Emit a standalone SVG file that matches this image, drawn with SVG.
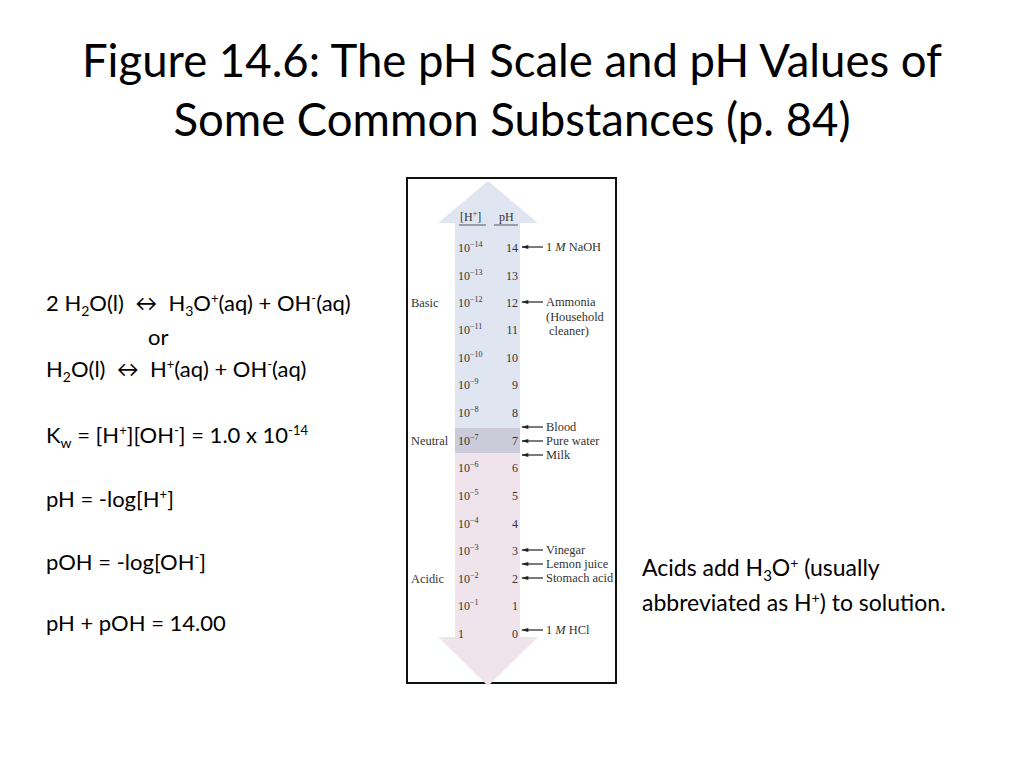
<svg xmlns="http://www.w3.org/2000/svg" width="1024" height="768" viewBox="0 0 1024 768">
<style>
.t{font-family:Lato,"Open Sans","DejaVu Sans",sans-serif;fill:#000}
.title{font-size:45.5px}
.eq{font-size:22px}
.nt{font-size:23px}
.s{font-family:"Liberation Serif","Times New Roman",serif;font-size:12px;fill:#333}
.lab{font-family:"Liberation Serif","Times New Roman",serif;font-size:12.4px;fill:#333}
.sup{font-size:8px}
.ar{stroke:#222;stroke-width:1.2;fill:none}
</style>
<defs>
<marker id="ah" viewBox="0 0 10 10" refX="9" refY="5" markerWidth="8" markerHeight="7" orient="auto" markerUnits="userSpaceOnUse">
<path d="M0,2 L10,5 L0,8 Z" fill="#222"/>
</marker>
</defs>
<rect width="1024" height="768" fill="#fff"/>
<g id="title">
<text class="t title" x="512" y="77" text-anchor="middle">Figure 14.6: The pH Scale and pH Values of</text>
<text class="t title" x="512" y="136" text-anchor="middle">Some Common Substances (p. 84)</text>
</g>
<g id="equations">
<text class="t eq" x="46" y="311" xml:space="preserve">2 H<tspan font-size="14" dy="5">2</tspan><tspan dy="-5">O(l)  ↔  H</tspan><tspan font-size="14" dy="5">3</tspan><tspan dy="-5">O</tspan><tspan font-size="13" dy="-8">+</tspan><tspan dy="8">(aq) + OH</tspan><tspan font-size="13" dy="-8">-</tspan><tspan dy="8">(aq)</tspan></text>
<text class="t eq" x="148" y="345">or</text>
<text class="t eq" x="46" y="377" xml:space="preserve">H<tspan font-size="14" dy="5">2</tspan><tspan dy="-5">O(l)  ↔  H</tspan><tspan font-size="13" dy="-8">+</tspan><tspan dy="8">(aq) + OH</tspan><tspan font-size="13" dy="-8">-</tspan><tspan dy="8">(aq)</tspan></text>
<text class="t eq" x="46" y="443">K<tspan font-size="14" dy="5">w</tspan><tspan dy="-5"> = [H</tspan><tspan font-size="13" dy="-8">+</tspan><tspan dy="8">][OH</tspan><tspan font-size="13" dy="-8">-</tspan><tspan dy="8">] = 1.0 x 10</tspan><tspan font-size="13" dy="-8">-14</tspan></text>
<text class="t eq" x="46" y="507">pH = -log[H<tspan font-size="13" dy="-8">+</tspan><tspan dy="8">]</tspan></text>
<text class="t eq" x="46" y="570">pOH = -log[OH<tspan font-size="13" dy="-8">-</tspan><tspan dy="8">]</tspan></text>
<text class="t eq" x="46" y="631">pH + pOH = 14.00</text>
</g>
<g id="note">
<text class="t nt" x="642" y="576">Acids add H<tspan font-size="15" dy="5">3</tspan><tspan dy="-5">O</tspan><tspan font-size="14" dy="-8">+</tspan><tspan dy="8"> (usually</tspan></text>
<text class="t nt" x="642" y="611">abbreviated as H<tspan font-size="14" dy="-8">+</tspan><tspan dy="8">) to solution.</tspan></text>
</g>
<g id="phscale">
<rect x="407" y="178" width="209" height="505" fill="#fff" stroke="#111" stroke-width="2"/>
<polygon points="488,181 538,223 520,223 520,428 455,428 455,223 438,223" fill="#dfe6f2"/>
<rect x="455" y="428" width="65" height="25" fill="#cccbda"/>
<polygon points="455,453 520,453 520,637 538,637 488,686 438,637 455,637" fill="#efe4ec"/>
<text class="s" x="460" y="221">[H<tspan class="sup" dy="-5">+</tspan><tspan dy="5">]</tspan></text>
<line x1="459" y1="225" x2="486" y2="225" stroke="#333" stroke-width="0.8"/>
<text class="s" x="499" y="221">pH</text>
<line x1="494" y1="225" x2="518" y2="225" stroke="#333" stroke-width="0.8"/>
<g>
<text class="s" x="458" y="252">10<tspan class="sup" dy="-5">−14</tspan></text><text class="s" x="518" y="252" text-anchor="end">14</text>
<text class="s" x="458" y="280">10<tspan class="sup" dy="-5">−13</tspan></text><text class="s" x="518" y="280" text-anchor="end">13</text>
<text class="s" x="458" y="307">10<tspan class="sup" dy="-5">−12</tspan></text><text class="s" x="518" y="307" text-anchor="end">12</text>
<text class="s" x="458" y="334">10<tspan class="sup" dy="-5">−11</tspan></text><text class="s" x="518" y="334" text-anchor="end">11</text>
<text class="s" x="458" y="362">10<tspan class="sup" dy="-5">−10</tspan></text><text class="s" x="518" y="362" text-anchor="end">10</text>
<text class="s" x="458" y="389">10<tspan class="sup" dy="-5">−9</tspan></text><text class="s" x="518" y="389" text-anchor="end">9</text>
<text class="s" x="458" y="417">10<tspan class="sup" dy="-5">−8</tspan></text><text class="s" x="518" y="417" text-anchor="end">8</text>
<text class="s" x="458" y="445">10<tspan class="sup" dy="-5">−7</tspan></text><text class="s" x="518" y="445" text-anchor="end">7</text>
<text class="s" x="458" y="472">10<tspan class="sup" dy="-5">−6</tspan></text><text class="s" x="518" y="472" text-anchor="end">6</text>
<text class="s" x="458" y="500">10<tspan class="sup" dy="-5">−5</tspan></text><text class="s" x="518" y="500" text-anchor="end">5</text>
<text class="s" x="458" y="528">10<tspan class="sup" dy="-5">−4</tspan></text><text class="s" x="518" y="528" text-anchor="end">4</text>
<text class="s" x="458" y="555">10<tspan class="sup" dy="-5">−3</tspan></text><text class="s" x="518" y="555" text-anchor="end">3</text>
<text class="s" x="458" y="583">10<tspan class="sup" dy="-5">−2</tspan></text><text class="s" x="518" y="583" text-anchor="end">2</text>
<text class="s" x="458" y="610">10<tspan class="sup" dy="-5">−1</tspan></text><text class="s" x="518" y="610" text-anchor="end">1</text>
<text class="s" x="458" y="638">1</text><text class="s" x="518" y="638" text-anchor="end">0</text>
</g>
<text class="lab" x="411" y="307">Basic</text>
<text class="lab" x="411" y="445">Neutral</text>
<text class="lab" x="411" y="583">Acidic</text>
</g>
<g id="connectors">
<line class="ar" x1="543" y1="247" x2="522" y2="247" marker-end="url(#ah)"/>
<line class="ar" x1="543" y1="302" x2="522" y2="302" marker-end="url(#ah)"/>
<line class="ar" x1="543" y1="427" x2="522" y2="427" marker-end="url(#ah)"/>
<line class="ar" x1="543" y1="441" x2="522" y2="441" marker-end="url(#ah)"/>
<line class="ar" x1="543" y1="455" x2="522" y2="455" marker-end="url(#ah)"/>
<line class="ar" x1="543" y1="550" x2="522" y2="550" marker-end="url(#ah)"/>
<line class="ar" x1="543" y1="564" x2="522" y2="564" marker-end="url(#ah)"/>
<line class="ar" x1="543" y1="578" x2="522" y2="578" marker-end="url(#ah)"/>
<line class="ar" x1="543" y1="630" x2="522" y2="630" marker-end="url(#ah)"/>
</g>
<g id="labels">
<text class="lab" x="546" y="251">1 <tspan font-style="italic">M</tspan> NaOH</text>
<text class="lab" x="546" y="306">Ammonia</text>
<text class="lab" x="546" y="321">(Household</text>
<text class="lab" x="549" y="335">cleaner)</text>
<text class="lab" x="546" y="431">Blood</text>
<text class="lab" x="546" y="445">Pure water</text>
<text class="lab" x="546" y="459">Milk</text>
<text class="lab" x="546" y="554">Vinegar</text>
<text class="lab" x="546" y="568">Lemon juice</text>
<text class="lab" x="546" y="582">Stomach acid</text>
<text class="lab" x="546" y="634">1 <tspan font-style="italic">M</tspan> HCl</text>
</g>
</svg>
